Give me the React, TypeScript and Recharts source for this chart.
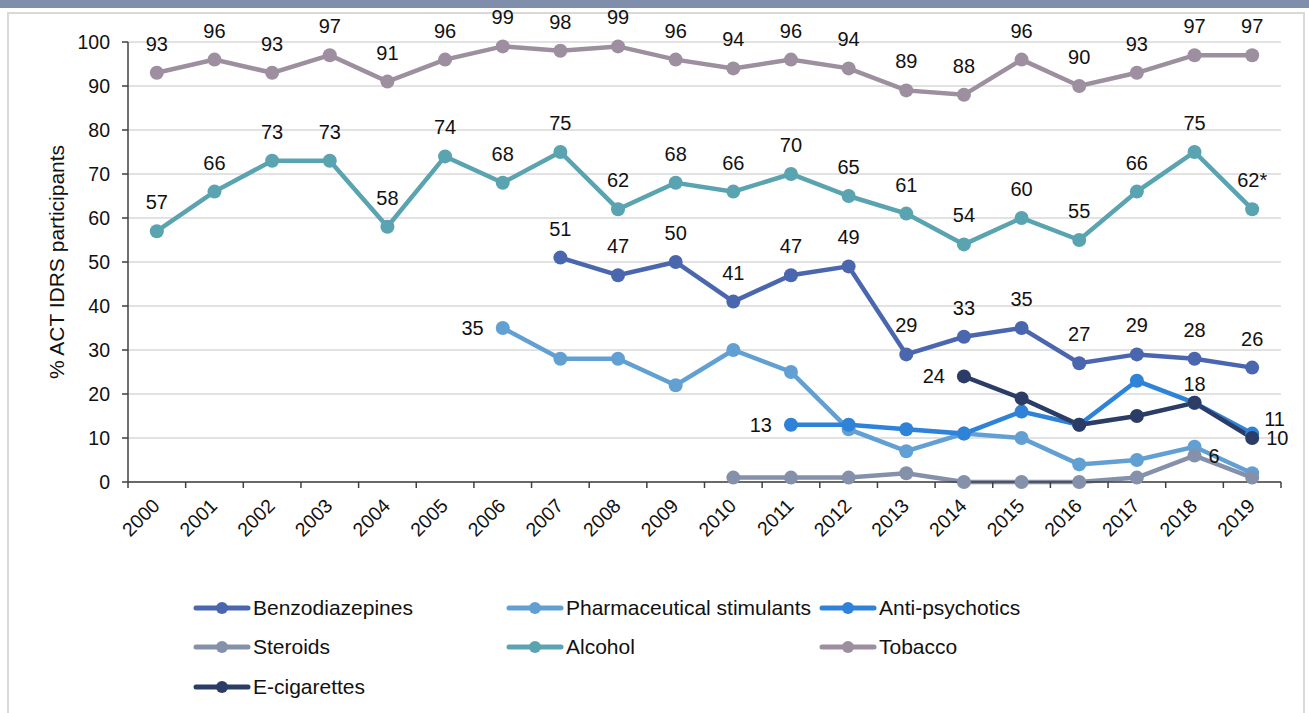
import React from 'react';
import { LineChart, Line, XAxis, YAxis, CartesianGrid, LabelList } from 'recharts';

const years = ['2000','2001','2002','2003','2004','2005','2006','2007','2008','2009','2010','2011','2012','2013','2014','2015','2016','2017','2018','2019'];

const benzodiazepines = [null,null,null,null,null,null,null,51,47,50,41,47,49,29,33,35,27,29,28,26];
const pharmaceuticalStimulants = [null,null,null,null,null,null,35,28,28,22,30,25,12,7,11,10,4,5,8,2];
const antiPsychotics = [null,null,null,null,null,null,null,null,null,null,null,13,13,12,11,16,13,23,18,11];
const steroids = [null,null,null,null,null,null,null,null,null,null,1,1,1,2,0,0,0,1,6,1];
const alcohol = [57,66,73,73,58,74,68,75,62,68,66,70,65,61,54,60,55,66,75,62];
const tobacco = [93,96,93,97,91,96,99,98,99,96,94,96,94,89,88,96,90,93,97,97];
const eCigarettes = [null,null,null,null,null,null,null,null,null,null,null,null,null,null,24,19,13,15,18,10];

const yTicks = [0,10,20,30,40,50,60,70,80,90,100];

type Pos = 'top' | 'left' | 'right' | 'upright' | 'toplow';
const allTop = (vals: (number|null)[]): Record<number, Pos> => {
  const m: Record<number, Pos> = {};
  vals.forEach((v, i) => { if (v !== null) m[i] = 'top'; });
  return m;
};

const series = [
  { key: 'benzo', name: 'Benzodiazepines', color: '#4a66ae', values: benzodiazepines, labels: allTop(benzodiazepines), suffix: {} as Record<number,string> },
  { key: 'pharm', name: 'Pharmaceutical stimulants', color: '#62a0d4', values: pharmaceuticalStimulants, labels: { 6: 'left' } as Record<number, Pos>, suffix: {} },
  { key: 'anti', name: 'Anti-psychotics', color: '#2e82d8', values: antiPsychotics, labels: { 11: 'left', 19: 'upright' } as Record<number, Pos>, suffix: {} },
  { key: 'ster', name: 'Steroids', color: '#8591aa', values: steroids, labels: { 18: 'right' } as Record<number, Pos>, suffix: {} },
  { key: 'alc', name: 'Alcohol', color: '#5aa3b0', values: alcohol, labels: allTop(alcohol), suffix: { 19: '*' } as Record<number,string> },
  { key: 'tob', name: 'Tobacco', color: '#9d8ea0', values: tobacco, labels: allTop(tobacco), suffix: {} },
  { key: 'ecig', name: 'E-cigarettes', color: '#2b3c66', values: eCigarettes, labels: { 14: 'left', 18: 'toplow', 19: 'right' } as Record<number, Pos>, suffix: {} },
];

const data = years.map((y, i) => {
  const row: Record<string, number | string | null> = { x: i, year: y };
  series.forEach(s => { row[s.key] = s.values[i]; });
  return row;
});

const xTicks: number[] = [];
for (let i = 0; i <= 40; i++) xTicks.push(-0.5 + i * 0.5);

const FONT = '"Liberation Sans", Arial, sans-serif';
const TEXT = '#111111';
const AXIS = '#404040';

const XTick = (props: any) => {
  const { x, y, payload } = props;
  const v = payload.value;
  if (Number.isInteger(v)) {
    const ax = x + 4;
    const ay = y + 25;
    return (
      <text x={ax} y={ay} transform={`rotate(-45, ${ax}, ${ay})`} textAnchor="end" fontSize={19.5} fontFamily={FONT} fill={TEXT}>
        {years[v]}
      </text>
    );
  }
  return <line x1={x} x2={x} y1={y} y2={y + 6} stroke={AXIS} strokeWidth={1.5} />;
};

const makeLabel = (s: typeof series[number]) => (props: any) => {
  const { value, index } = props;
  const x = props.x ?? props.viewBox?.x;
  const y = props.y ?? props.viewBox?.y;
  if (value === null || value === undefined || x == null || y == null) return null;
  const pos = s.labels[index];
  if (!pos) return null;
  const txt = `${value}${(s.suffix as Record<number,string>)[index] ?? ''}`;
  let tx = x, ty = y, anchor: 'middle' | 'end' | 'start' = 'middle';
  if (pos === 'top') { ty = y - 29; }
  else if (pos === 'toplow') { ty = y - 19; }
  else if (pos === 'left') { tx = x - 19; anchor = 'end'; }
  else if (pos === 'right') { tx = x + 14; anchor = 'start'; }
  else if (pos === 'upright') { tx = x + 12; ty = y - 15; anchor = 'start'; }
  return (
    <text key={`${s.key}-${index}`} x={tx} y={ty} textAnchor={anchor} dominantBaseline="central" fontSize={20} fontFamily={FONT} fill={TEXT}>
      {txt}
    </text>
  );
};

const YLabel = (props: any) => {
  const vb = props.viewBox || {};
  const cx = (vb.x ?? 68) - 12;
  const cy = (vb.y ?? 42) + (vb.height ?? 440) / 2;
  return (
    <text x={cx} y={cy} transform={`rotate(-90, ${cx}, ${cy})`} textAnchor="middle" dominantBaseline="central" fontSize={21} fontFamily={FONT} fill={TEXT}>
      % ACT IDRS participants
    </text>
  );
};

const LegendIcon = ({ color }: { color: string }) => (
  <svg width={58} height={16} style={{ display: 'block' }}>
    <line x1={3} x2={55} y1={8} y2={8} stroke={color} strokeWidth={5} strokeLinecap="round" />
    <circle cx={29} cy={8} r={6} fill={color} />
  </svg>
);

export default function App() {
  return (
    <div style={{ position: 'absolute', left: 0, top: 0, width: 1309, height: 713, background: '#fff', overflow: 'hidden', fontFamily: FONT }}>
      <div style={{ position: 'absolute', left: 0, top: 0, width: 1309, height: 8, background: '#7f8fab' }} />
      <div style={{ position: 'absolute', left: 7, top: 12, width: 1298, height: 720, border: '2px solid #d9d9d9', boxSizing: 'border-box' }} />
      <div style={{ position: 'absolute', left: 0, top: 0 }}>
        <LineChart width={1309} height={713} data={data} margin={{ top: 42, right: 28, bottom: 201, left: 68 }}>
          <CartesianGrid vertical={false} stroke="#d9d9d9" strokeWidth={1.5} />
          <XAxis
            dataKey="x"
            type="number"
            domain={[-0.5, 19.5]}
            ticks={xTicks}
            interval={0}
            height={30}
            tickSize={0}
            tickMargin={0}
            tickLine={false}
            axisLine={{ stroke: AXIS, strokeWidth: 1.5 }}
            tick={(p: any) => <XTick {...p} />}
          />
          <YAxis
            domain={[0, 100]}
            ticks={yTicks}
            interval={0}
            width={60}
            tickSize={6}
            tickMargin={12}
            axisLine={{ stroke: AXIS, strokeWidth: 1.5 }}
            tickLine={{ stroke: AXIS, strokeWidth: 1.5 }}
            tick={{ fontSize: 19.5, fontFamily: FONT, fill: TEXT }}
            label={<YLabel />}
          />
          {series.map(s => (
            <Line
              key={s.key}
              dataKey={s.key}
              name={s.name}
              stroke={s.color}
              strokeWidth={4.5}
              dot={{ r: 7, fill: s.color, stroke: s.color, strokeWidth: 0 }}
              activeDot={false}
              isAnimationActive={false}
              connectNulls={false}
            >
              <LabelList dataKey={s.key} content={makeLabel(s)} />
            </Line>
          ))}
        </LineChart>
      </div>
      {series.map((s, i) => {
        const col = i % 3;
        const row = Math.floor(i / 3);
        const left = 193 + col * 313;
        const top = [608, 647, 687][row] - 15;
        return (
          <div key={s.key} style={{ position: 'absolute', left, top, height: 30, display: 'flex', alignItems: 'center', whiteSpace: 'nowrap' }}>
            <LegendIcon color={s.color} />
            <span style={{ marginLeft: 2, fontSize: 21, color: TEXT, fontFamily: FONT }}>{s.name}</span>
          </div>
        );
      })}
    </div>
  );
}
